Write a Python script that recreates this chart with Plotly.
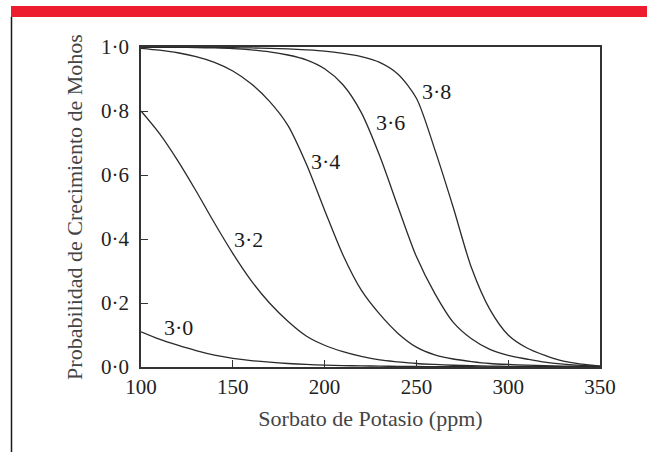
import plotly.graph_objects as go

# ---- data ----
sorbato_ppm = [100, 110, 120, 130, 140, 150, 160, 170, 180, 190, 200, 210, 220,
               230, 240, 250, 260, 270, 280, 290, 300, 310, 320, 330, 340, 350]

ph_3_0 = [0.110, 0.087, 0.068, 0.051, 0.037, 0.027, 0.020, 0.015, 0.011, 0.008,
          0.006, 0.0045, 0.0035, 0.0027, 0.002, 0.0015, 0.0012, 0.001, 0.0008,
          0.0006, 0.0005, 0.0004, 0.0003, 0.0003, 0.0002, 0.0002]
ph_3_2 = [0.80, 0.73, 0.645, 0.55, 0.45, 0.355, 0.27, 0.20, 0.143, 0.097, 0.068,
          0.048, 0.033, 0.022, 0.016, 0.011, 0.008, 0.0055, 0.004, 0.003, 0.002,
          0.0015, 0.001, 0.0008, 0.0006, 0.0005]
ph_3_4 = [0.996, 0.99, 0.982, 0.97, 0.952, 0.925, 0.885, 0.83, 0.755, 0.635, 0.49,
          0.35, 0.24, 0.165, 0.105, 0.062, 0.038, 0.025, 0.017, 0.011, 0.008,
          0.006, 0.004, 0.003, 0.002, 0.001]
ph_3_6 = [1.0, 0.999, 0.999, 0.998, 0.997, 0.995, 0.991, 0.985, 0.975, 0.96, 0.932,
          0.882, 0.795, 0.66, 0.50, 0.345, 0.23, 0.14, 0.088, 0.055, 0.036, 0.025,
          0.015, 0.009, 0.005, 0.003]
ph_3_8 = [1.0, 1.0, 1.0, 0.999, 0.999, 0.998, 0.997, 0.996, 0.994, 0.991, 0.987,
          0.98, 0.97, 0.952, 0.915, 0.84, 0.68, 0.50, 0.31, 0.18, 0.10, 0.06,
          0.036, 0.018, 0.009, 0.003]

series = [ph_3_0, ph_3_2, ph_3_4, ph_3_6, ph_3_8]

curve_labels = ["3·0", "3·2", "3·4", "3·6", "3·8"]
label_x = [120.3, 158.4, 200.3, 235.7, 260.7]
label_y = [0.123, 0.40, 0.642, 0.764, 0.861]

x_ticks = [100, 150, 200, 250, 300, 350]
y_ticks = [0.0, 0.2, 0.4, 0.6, 0.8, 1.0]
y_ticktext = ["0·0", "0·2", "0·4", "0·6", "0·8", "1·0"]

x_title = "Sorbato de Potasio (ppm)"
y_title = "Probabilidad de Crecimiento de Mohos"

# ---- figure ----
W, H = 647, 452
ML, MR, MT, MB = 141, 47, 47, 85
PW, PH = W - ML - MR, H - MT - MB


def pxx(px):
    return (px - ML) / PW


def pxy(py):
    return (H - MB - py) / PH


FONT = "Liberation Serif, Times New Roman, serif"

fig = go.Figure()
for ys in series:
    fig.add_trace(go.Scatter(
        x=sorbato_ppm, y=ys, mode="lines",
        line=dict(color="#2a2a2a", width=1.3, shape="spline", smoothing=0.8),
        showlegend=False, hoverinfo="skip",
    ))

for t, lx, ly in zip(curve_labels, label_x, label_y):
    fig.add_annotation(x=lx, y=ly, text=t, showarrow=False,
                       xanchor="center", yanchor="middle",
                       font=dict(family=FONT, size=22, color="#1a1a1a"))

axis_common = dict(
    showline=True, linecolor="#333333", linewidth=1.6, mirror=True,
    showgrid=False, zeroline=False, ticks="inside", ticklen=7,
    tickwidth=1.2, tickcolor="#333333",
    tickfont=dict(family=FONT, size=21, color="#222222"),
)

fig.update_xaxes(range=[100, 350], tickvals=x_ticks, **axis_common,
                 title=dict(text=x_title, standoff=13,
                            font=dict(family=FONT, size=22, color="#444444")))
fig.update_yaxes(range=[0, 1], tickvals=y_ticks, ticktext=y_ticktext,
                 ticklabelstandoff=6, **axis_common,
                 title=dict(text=y_title, standoff=12,
                            font=dict(family=FONT, size=22, color="#444444")))

# red band at top and black rule on the left
fig.add_shape(type="rect", xref="paper", yref="paper",
              x0=pxx(11), x1=pxx(650), y0=pxy(17), y1=pxy(6),
              fillcolor="#ED1C2E", line=dict(width=0), layer="above")
fig.add_shape(type="line", xref="paper", yref="paper",
              x0=pxx(11.5), x1=pxx(11.5), y0=pxy(17), y1=pxy(455),
              line=dict(color="#1a1a1a", width=1.5), layer="above")

fig.update_layout(
    width=W, height=H,
    margin=dict(l=ML, r=MR, t=MT, b=MB, autoexpand=False),
    paper_bgcolor="white", plot_bgcolor="white",
    font=dict(family=FONT, color="#222222"),
)

fig.write_html(
    "out.html",
    config={"displayModeBar": False},
    post_script="document.body.style.margin='0';document.body.style.overflow='hidden';",
)
